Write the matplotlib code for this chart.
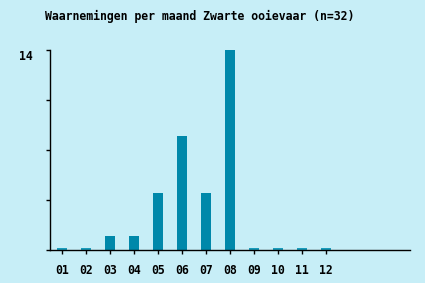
import numpy as np
import matplotlib
matplotlib.use("Agg")
import matplotlib.pyplot as plt
from matplotlib.transforms import blended_transform_factory

maanden = ["01", "02", "03", "04", "05", "06", "07", "08", "09", "10", "11", "12"]
aantallen = [0, 0, 1, 1, 4, 8, 4, 14, 0, 0, 0, 0]
titel = "Waarnemingen per maand Zwarte ooievaar (n=32)"

bg = "#c7eef7"
balk_kleur = "#0088aa"
nul_kleur = "#1a9cbc"

fig = plt.figure(figsize=(4.25, 2.83), dpi=100, facecolor=bg)
ax = fig.add_axes([50 / 425, 33 / 283, 360 / 425, 200 / 283])
ax.set_facecolor(bg)

x = np.arange(1, len(maanden) + 1)
waarden = np.array(aantallen, dtype=float)
ax.bar(x[waarden > 0], waarden[waarden > 0], width=0.38, color=balk_kleur)
# lege maanden krijgen een klein streepje
ax.bar(x[waarden == 0], 0.15, width=0.4, color=nul_kleur)

ax.set_xlim(0.5, 15.5)
ax.set_ylim(0, 14)
ax.set_xticks(x)
ax.set_xticklabels(maanden, family="DejaVu Sans Mono", fontweight="bold", fontsize=8.3)
ax.set_yticks([0, 3.5, 7, 10.5, 14])
ax.set_yticklabels([])
ax.tick_params(axis="x", length=3, width=1, pad=7, direction="out")
ax.tick_params(axis="y", length=3, width=1, direction="out")

for s in ["top", "right"]:
    ax.spines[s].set_visible(False)
for s in ["left", "bottom"]:
    ax.spines[s].set_linewidth(1.0)

tr = blended_transform_factory(fig.transFigure, ax.transData)
ax.text(26 / 425, 13.55, "14", transform=tr, ha="center", va="center",
        family="DejaVu Sans Mono", fontweight="bold", fontsize=8.3)

fig.text(200 / 425, 1 - 16 / 283, titel, ha="center", va="center",
         family="DejaVu Sans Mono", fontweight="bold", fontsize=8.3)

fig.savefig("out.png", dpi=100, facecolor=bg)
